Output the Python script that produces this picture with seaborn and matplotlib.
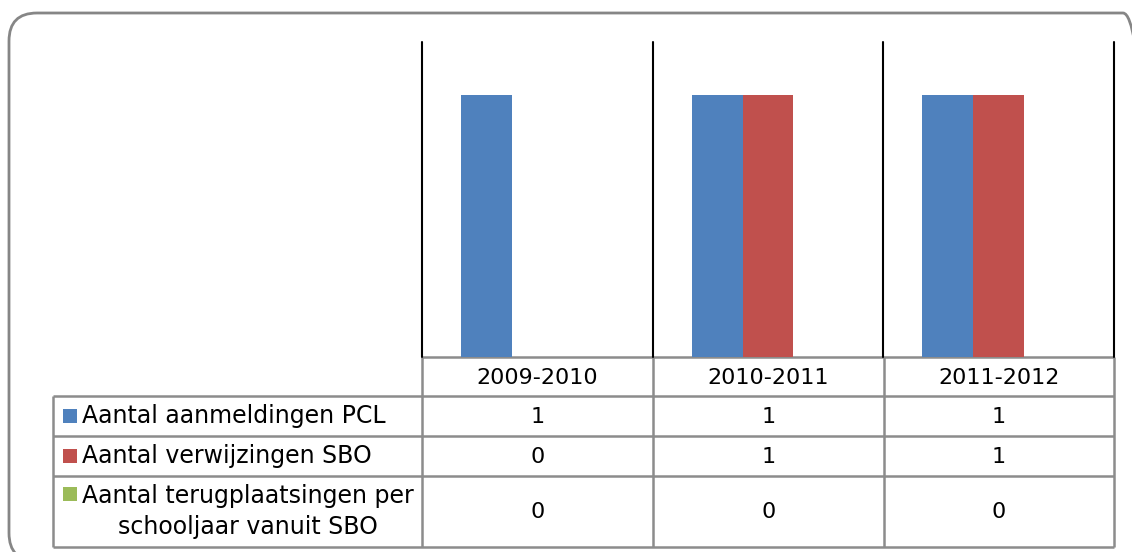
import pandas as pd
import matplotlib.pyplot as plt
import seaborn as sns
from matplotlib.patches import FancyBboxPatch, Rectangle

sns.set_theme(style="white")
plt.rcParams['font.family'] = ['DejaVu Sans']

# Data
years = ['2009-2010', '2010-2011', '2011-2012']
series = ['Aantal aanmeldingen PCL', 'Aantal verwijzingen SBO',
          'Aantal terugplaatsingen per\nschooljaar vanuit SBO']
aanmeldingen = [1, 1, 1]
verwijzingen = [0, 1, 1]
terugplaatsingen = [0, 0, 0]
colors = ['#4F81BD', '#C0504D', '#9BBB59']

values = [aanmeldingen, verwijzingen, terugplaatsingen]
df = pd.DataFrame({
    'year': years * 3,
    'series': [s for s in series for _ in years],
    'value': aanmeldingen + verwijzingen + terugplaatsingen,
})

W, H = 1132, 552
fig = plt.figure(figsize=(W / 100, H / 100), dpi=100)

# rounded outer border (pixel units, y measured from bottom)
bd = fig.add_axes([0, 0, 1, 1], zorder=-2)
bd.set_xlim(0, W)
bd.set_ylim(0, H)
bd.axis('off')
bd.add_patch(FancyBboxPatch((9, H - 561), 1142, 548,
                            boxstyle="round,pad=0,rounding_size=28",
                            facecolor='none', edgecolor='#868686', linewidth=2))

# overlay axes in pixel units (y from top) for the data table
ov = fig.add_axes([0, 0, 1, 1], zorder=-1)
ov.set_xlim(0, W)
ov.set_ylim(H, 0)
ov.axis('off')

# plot area
left, right, top, bottom = 422, 1114, 42, 357
ax = fig.add_axes([left / W, 1 - bottom / H, (right - left) / W, (bottom - top) / H])
sns.barplot(data=df, x='year', y='value', hue='series', palette=colors,
            width=0.662, gap=0, saturation=1, linewidth=0, ax=ax, legend=False)
ax.set_ylim(0, 1.2)
ax.set_xlim(-0.5, 2.5)
ax.set_xlabel('')
ax.set_ylabel('')
ax.set_xticks([])
ax.set_yticks([])
ax.patch.set_alpha(0)
for s in ax.spines.values():
    s.set_visible(False)
for xv in [-0.5, 0.5, 1.5, 2.5]:
    ax.axvline(xv, color='black', lw=1.5, clip_on=False)

# data table
grid = '#8c8c8c'
col_x = [53, 422, 653, 884, 1114]
row_y = [357, 396, 436, 476, 547]

ov.hlines(row_y[0], col_x[1], col_x[-1], color=grid, lw=1.8)
ov.hlines(row_y[1:], col_x[0], col_x[-1], color=grid, lw=1.8)
ov.vlines(col_x[0], row_y[1], row_y[-1], color=grid, lw=1.8)
ov.vlines(col_x[1:], row_y[0], row_y[-1], color=grid, lw=1.8)

fs_num = 16
fs_lab = 17
for j, yr in enumerate(years):
    cx = (col_x[j + 1] + col_x[j + 2]) / 2
    ov.text(cx, (row_y[0] + row_y[1]) / 2 + 1, yr, ha='center', va='center',
            fontsize=fs_num, color='black')

for i, (name, vals, c) in enumerate(zip(series, values, colors)):
    cy = (row_y[i + 1] + row_y[i + 2]) / 2
    key_y = cy if '\n' not in name else row_y[i + 1] + 18
    ov.add_patch(Rectangle((63, key_y - 7), 14, 14, facecolor=c, edgecolor='none'))
    ov.text(82, cy, name, ha='left', va='center', fontsize=fs_lab,
            color='black', linespacing=1.35, multialignment='center')
    for j, v in enumerate(vals):
        cx = (col_x[j + 1] + col_x[j + 2]) / 2
        ov.text(cx, cy + 1, str(v), ha='center', va='center', fontsize=fs_num,
                color='black')

fig.savefig('out.png', dpi=100, facecolor='white')
